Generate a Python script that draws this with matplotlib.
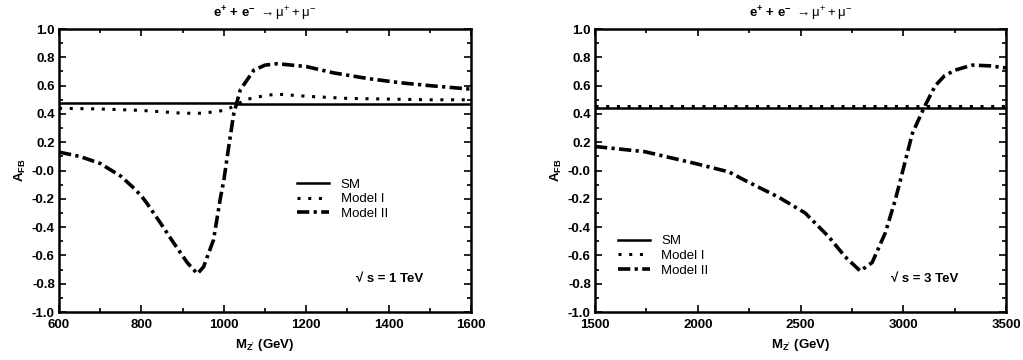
import matplotlib
matplotlib.use("Agg")
import matplotlib.pyplot as plt
from matplotlib.ticker import MultipleLocator
from matplotlib.lines import Line2D

plt.rcParams['font.family'] = ['Liberation Sans', 'DejaVu Sans']
plt.rcParams['mathtext.fontset'] = 'custom'
plt.rcParams['mathtext.rm'] = 'Liberation Sans'
plt.rcParams['mathtext.bf'] = 'Liberation Sans:bold'
plt.rcParams['mathtext.it'] = 'Liberation Sans:italic'

# ---- data: sqrt(s) = 1 TeV ----
m1 = [600, 650, 700, 750, 780, 800, 813, 846, 878, 911, 936, 951, 975, 992, 1000,
      1012, 1024, 1040, 1073, 1100, 1130, 1200, 1267, 1350, 1430, 1500, 1600]
sm1_x = [600, 1030, 1030, 1600]
sm1_y = [0.477, 0.477, 0.470, 0.470]
mI1_x = [600, 700, 800, 850, 900, 950, 1000, 1030, 1050, 1100, 1130, 1200, 1300, 1400, 1500, 1600]
mI1_y = [0.44, 0.435, 0.425, 0.415, 0.405, 0.405, 0.425, 0.46, 0.50, 0.53, 0.54, 0.525, 0.51, 0.505, 0.50, 0.50]
mII1_y = [0.13, 0.10, 0.05, -0.04, -0.12, -0.18, -0.23, -0.37, -0.51, -0.65, -0.73, -0.68, -0.49, -0.19, -0.07,
          0.17, 0.40, 0.57, 0.71, 0.745, 0.755, 0.735, 0.69, 0.65, 0.62, 0.60, 0.575]

# ---- data: sqrt(s) = 3 TeV ----
m3 = [1500, 1743, 1987, 2152, 2230, 2395, 2522, 2638, 2717, 2790, 2848, 2912, 2960, 2985,
      3043, 3102, 3155, 3200, 3252, 3334, 3420, 3500]
sm3_x = [1500, 3500]
sm3_y = [0.443, 0.443]
mI3_x = [1500, 3500]
mI3_y = [0.455, 0.455]
mII3_y = [0.17, 0.133, 0.05, -0.01, -0.07, -0.19, -0.30, -0.47, -0.61, -0.71, -0.65, -0.44, -0.21, -0.07,
          0.26, 0.45, 0.60, 0.67, 0.71, 0.745, 0.74, 0.725]

yticks = [-1.0, -0.8, -0.6, -0.4, -0.2, 0.0, 0.2, 0.4, 0.6, 0.8, 1.0]
ytick_labels = ['-1.0', '-0.8', '-0.6', '-0.4', '-0.2', '-0.0', '0.2', '0.4', '0.6', '0.8', '1.0']
labels = ['SM', 'Model I', 'Model II']

fig = plt.figure(figsize=(10.23, 3.6), dpi=100)
ax1 = fig.add_axes([0.0577, 0.1333, 0.4027, 0.786])
ax2 = fig.add_axes([0.5816, 0.1333, 0.4020, 0.786])

dot_style = dict(color='black', lw=2.2, linestyle=(0, (1.0, 2.5)))
dd_style = dict(color='black', lw=2.6, linestyle=(0, (3.4, 1.2, 0.9, 1.2)))
sm_style = dict(color='black', lw=1.8, linestyle='-')

ax1.plot(sm1_x, sm1_y, **sm_style)
ax1.plot(mI1_x, mI1_y, **dot_style)
ax1.plot(m1, mII1_y, **dd_style)

ax2.plot(sm3_x, sm3_y, **sm_style)
ax2.plot(mI3_x, mI3_y, **dot_style)
ax2.plot(m3, mII3_y, **dd_style)

title = r"$\mathbf{e^{+}}$ + $\mathbf{e^{-}}$ $\rightarrow \mathrm{μ}^{+} + \mathrm{μ}^{-}$"

for ax, xlim, xmaj, xmin in [(ax1, (600, 1600), 200, 100), (ax2, (1500, 3500), 500, 250)]:
    ax.set_xlim(*xlim)
    ax.set_ylim(-1.0, 1.0)
    ax.xaxis.set_major_locator(MultipleLocator(xmaj))
    ax.xaxis.set_minor_locator(MultipleLocator(xmin))
    ax.set_yticks(yticks)
    ax.set_yticklabels(ytick_labels)
    ax.yaxis.set_minor_locator(MultipleLocator(0.1))
    ax.tick_params(which='both', direction='in', top=True, right=True, width=1.2)
    ax.tick_params(which='major', length=5, labelsize=9.5)
    ax.tick_params(axis='x', which='major', pad=5)
    ax.tick_params(axis='y', which='major', pad=3)
    ax.tick_params(which='minor', length=3)
    for lab in ax.get_xticklabels() + ax.get_yticklabels():
        lab.set_fontweight('bold')
    for sp in ax.spines.values():
        sp.set_linewidth(1.8)
    ax.set_xlabel(r"$\mathbf{M_{Z^{\prime}}}$ (GeV)", fontsize=9.5, fontweight='bold', labelpad=4)
    ax.set_ylabel(r"$\mathbf{A_{FB}}$", fontsize=9.5, fontweight='bold', labelpad=3)
    ax.set_title(title, fontsize=9.5, fontweight='bold', pad=8)

handles = [Line2D([], [], **sm_style), Line2D([], [], **dot_style), Line2D([], [], **dd_style)]
ax1.legend(handles, labels, loc='upper left', bbox_to_anchor=(0.565, 0.49), frameon=False,
           fontsize=9.5, handlelength=2.4, handletextpad=0.9, labelspacing=0.18, borderaxespad=0)
ax2.legend(handles, labels, loc='upper left', bbox_to_anchor=(0.043, 0.29), frameon=False,
           fontsize=9.5, handlelength=2.4, handletextpad=0.9, labelspacing=0.18, borderaxespad=0)

ax1.text(0.722, 0.105, "\u221a s = 1 TeV", transform=ax1.transAxes, fontsize=9.5, fontweight='bold')
ax2.text(0.72, 0.105, "\u221a s = 3 TeV", transform=ax2.transAxes, fontsize=9.5, fontweight='bold')

fig.savefig('out.png', dpi=100)
